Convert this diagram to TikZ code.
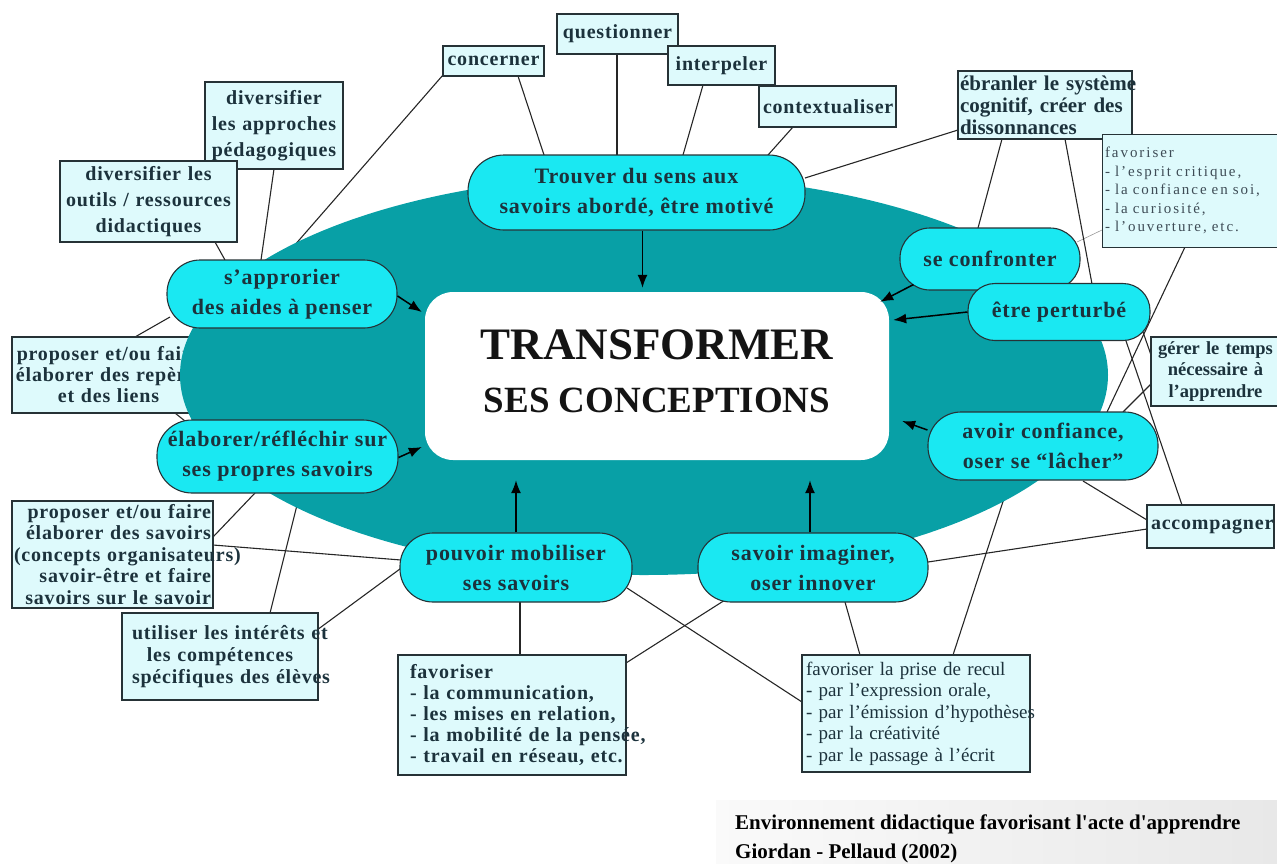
\documentclass[tikz,border=0pt]{standalone}
\usepackage{fontspec}
\setmainfont{Liberation Serif}
\newfontfamily\trackedserif[LetterSpace=4]{Liberation Serif}
\newfontfamily\looseserif[LetterSpace=13]{Liberation Serif}
\usetikzlibrary{arrows.meta,calc}

\definecolor{disccolor}{RGB}{8,160,166}
\definecolor{bubblefill}{RGB}{26,232,242}
\definecolor{notefill}{RGB}{222,250,252}
\definecolor{inkdark}{RGB}{28,50,60}
\definecolor{inksoft}{RGB}{62,76,86}
\definecolor{rim}{RGB}{38,50,54}

\pgfdeclarelayer{links}
\pgfdeclarelayer{under}
\pgfdeclarelayer{disc}
\pgfsetlayers{links,under,disc,main}

\newcommand\oneline[1]{\mbox{#1}}

\tikzset{
  bubble/.style={draw=rim, line width=1.1pt, fill=bubblefill, rounded corners=30pt,
    align=center, text=inkdark, inner sep=0pt,
    font=\trackedserif\bfseries\fontsize{22}{30}\selectfont},
  notebox/.style={draw=rim, line width=1.3pt, fill=notefill, text=inkdark,
    inner xsep=4pt, inner ysep=0pt, align=center,
    font=\trackedserif\bfseries\fontsize{20}{21.5}\selectfont},
  link/.style={draw=black!85, line width=1.1pt},
  feed/.style={draw=black, line width=1.5pt, -{Latex[length=13pt,width=10pt]}},
}

\begin{document}
\begin{tikzpicture}[x=1pt,y=-1pt]
\useasboundingbox (0,0) rectangle (1277,863);
\clip (0,0) rectangle (1277,863);

% caption band
\shade[left color=black!2, right color=black!9] (716,800) rectangle (1277,863);

% teal disc behind the bubbles
\begin{pgfonlayer}{disc}
  \fill[disccolor] (644,375) ellipse [x radius=464, y radius=200];
\end{pgfonlayer}

% central statement
\node[fill=white, rounded corners=28pt, minimum width=464pt, minimum height=168pt, inner sep=0pt] (nCenter) at (657,376) {};
\node[font=\bfseries\fontsize{45}{50}\selectfont, text=black!92, inner sep=0pt] (tTitleA) at ([yshift=31pt]nCenter.center) {TRANSFORMER};
\node[font=\bfseries\fontsize{37}{42}\selectfont, text=black!92, inner sep=0pt] (tTitleB) at ([yshift=-24pt]nCenter.center) {SES CONCEPTIONS};

% bubbles
\node[bubble, minimum width=337pt, minimum height=75pt, rounded corners=36pt] (bTrouver) at (636.5,192.5) {Trouver du sens aux\\savoirs abordé, être motivé};
\node[bubble, minimum width=230pt, minimum height=68pt, rounded corners=33pt] (bAppro) at (282,294) {s’approrier\\des aides à penser};
\node[bubble, minimum width=241pt, minimum height=73pt, rounded corners=35pt] (bElab) at (277.5,456.5) {élaborer/réfléchir sur\\ses propres savoirs};
\node[bubble, minimum width=232pt, minimum height=69pt, rounded corners=33pt] (bMobil) at (516,567.5) {pouvoir mobiliser\\ses savoirs};
\node[bubble, minimum width=230pt, minimum height=69pt, rounded corners=33pt] (bImag) at (813,567.5) {savoir imaginer,\\oser innover};
\node[bubble, minimum width=230pt, minimum height=68pt, rounded corners=33pt] (bConf) at (1043,446) {avoir confiance,\\oser se “lâcher”};
\node[bubble, minimum width=180pt, minimum height=62pt, rounded corners=30pt] (bConfr) at (990,259) {se confronter};
\node[bubble, minimum width=182pt, minimum height=57pt, rounded corners=27pt] (bPert) at (1059,312) {être perturbé};

% note boxes
\node[notebox, text width=130pt, minimum height=87pt, font=\trackedserif\bfseries\fontsize{20}{26}\selectfont] (xPedago) at (274,125.5)
  {\oneline{diversifier}\\\oneline{les approches}\\\oneline{pédagogiques}};
\node[notebox, text width=169pt, minimum height=81pt, font=\trackedserif\bfseries\fontsize{20}{26}\selectfont] (xDidact) at (148.5,201.5)
  {\oneline{diversifier les}\\\oneline{outils / ressources}\\\oneline{didactiques}};
\node[notebox, text width=93pt, minimum height=30pt] (xConcern) at (493.5,61) {\oneline{concerner}};
\node[notebox, text width=113pt, minimum height=40pt] (xQuest) at (617.5,34) {\oneline{questionner}};
\node[notebox, text width=99pt, minimum height=39pt] (xInterp) at (721.5,65.5) {\oneline{interpeler}};
\node[notebox, text width=129pt, minimum height=41pt] (xContext) at (827.5,106.5) {\oneline{contextualiser}};
\node[notebox, text width=170pt, inner xsep=2pt, minimum height=68pt, align=left, font=\bfseries\fontsize{21}{22}\selectfont] (xEbran) at (1045,105)
  {\oneline{ébranler le système}\\\oneline{cognitif, créer des}\\\oneline{dissonnances}};
\node[notebox, text width=182pt, inner xsep=3pt, minimum height=113pt, align=left, line width=1pt, text=inksoft, font=\looseserif\fontsize{15}{18.5}\selectfont] (xFavR) at (1196,190.5)
  {\oneline{favoriser}\\\oneline{- l’esprit critique,}\\\oneline{- la confiance en soi,}\\\oneline{- la curiosité,}\\\oneline{- l’ouverture, etc.}};
\node[notebox, text width=119pt, inner xsep=5pt, minimum height=69pt, font=\bfseries\fontsize{18.5}{21.5}\selectfont] (xGerer) at (1215.5,371.5)
  {\oneline{gérer le temps}\\\oneline{nécessaire à}\\\oneline{l’apprendre}};
\node[notebox, text width=119pt, minimum height=43pt] (xAccomp) at (1210.5,526.5) {\oneline{accompagner}};
\node[notebox, text width=220pt, minimum height=117pt, align=left, font=\fontsize{19}{21.5}\selectfont] (xRecul) at (916,713.5)
  {\oneline{favoriser la prise de recul}\\\oneline{- par l’expression orale,}\\\oneline{- par l’émission d’hypothèses}\\\oneline{- par la créativité}\\\oneline{- par le passage à l’écrit}};
\node[notebox, text width=204pt, inner xsep=12pt, minimum height=120pt, align=left, font=\trackedserif\bfseries\fontsize{20}{21}\selectfont] (xFavB) at (512,715)
  {\oneline{favoriser}\\\oneline{- la communication,}\\\oneline{- les mises en relation,}\\\oneline{- la mobilité de la pensée,}\\\oneline{- travail en réseau, etc.}};
\node[notebox, text width=176pt, inner xsep=10pt, minimum height=87pt, font=\trackedserif\bfseries\fontsize{20}{21.7}\selectfont] (xUtil) at (220,656.5)
  {\oneline{utiliser les intérêts et}\\\oneline{les compétences}\\\oneline{spécifiques des élèves}};
\node[notebox, text width=197pt, inner xsep=2pt, minimum height=107pt, align=right] (xSavoirs) at (112.5,554.5)
  {\oneline{proposer et/ou faire}\\\oneline{élaborer des savoirs}\\\oneline{(concepts organisateurs)}\\\oneline{savoir-être et faire}\\\oneline{savoirs sur le savoir}};
\begin{pgfonlayer}{under}
  \node[notebox, text width=185pt, minimum height=76pt, font=\trackedserif\bfseries\fontsize{20}{21}\selectfont] (xReperes) at (108.5,375)
    {\oneline{proposer et/ou faire}\\\oneline{élaborer des repères}\\\oneline{et des liens}};
\end{pgfonlayer}

% caption
\node[anchor=base west, inner sep=0pt, font=\bfseries\fontsize{21}{24}\selectfont] (capA) at (735,829) {Environnement didactique favorisant l\textquotesingle acte d\textquotesingle apprendre};
\node[anchor=base west, inner sep=0pt, font=\bfseries\fontsize{21}{24}\selectfont] (capB) at (735,858) {Giordan - Pellaud (2002)};

% plain connectors, kept under the disc and the shapes
\begin{pgfonlayer}{links}
  \draw[link] ($(xConcern.center)+(24.5,15)$) -- ($(bTrouver.center)+(-92.5,-37.5)$);
  \draw[link] ($(xQuest.center)+(-0.5,20)$) -- ($(bTrouver.center)+(-19.5,-37.5)$);
  \draw[link] ($(xInterp.center)+(-18.5,19.5)$) -- ($(bTrouver.center)+(46.5,-37.5)$);
  \draw[link] ($(xContext.center)+(-34.5,20.5)$) -- ($(bTrouver.center)+(131.5,-37.5)$);
  \draw[link] ($(bTrouver.center)+(168.5,-14.5)$) -- ($(xEbran.center)+(-87,25)$);
  \draw[link] ($(xConcern.center)+(-50.5,14)$) -- ($(bAppro.center)+(-2,-32)$);
  \draw[link] ($(xPedago.center)+(0,43.5)$) -- ($(bAppro.center)+(-21,-34)$);
  \draw[link] ($(xDidact.center)+(66.5,40.5)$) -- ($(bAppro.center)+(-57,-34)$);
  \draw[link] ($(bAppro.center)+(-112,23)$) -- ($(xReperes.center)+(26.5,-38)$);
  \draw[link] ($(xReperes.center)+(66.5,38)$) -- ($(bElab.center)+(-92.5,-35.5)$);
  \draw[link] ($(bElab.center)+(-22.5,36.5)$) -- ($(xSavoirs.center)+(100.5,-17.5)$);
  \draw[link] ($(xSavoirs.center)+(100.5,-9.5)$) -- ($(bMobil.center)+(-115,-7.5)$);
  \draw[link] ($(xUtil.center)+(97,-26.5)$) -- ($(bMobil.center)+(-112,-1.5)$);
  \draw[link] ($(xUtil.center)+(50,-43.5)$) -- ($(bElab.center)+(22.5,36.5)$);
  \draw[link] ($(bMobil.center)+(4,34.5)$) -- ($(xFavB.center)+(8,-60)$);
  \draw[link] ($(bImag.center)+(-88,32.5)$) -- ($(xFavB.center)+(114,-52)$);
  \draw[link] ($(bMobil.center)+(111,20.5)$) -- ($(xRecul.center)+(-114,-11.5)$);
  \draw[link] ($(bImag.center)+(32,34.5)$) -- ($(xRecul.center)+(-56,-58.5)$);
  \draw[link] ($(xRecul.center)+(37,-58.5)$) -- ($(bConf.center)+(-33,34)$);
  \draw[link] ($(bImag.center)+(115,-5.5)$) -- ($(xAccomp.center)+(-63.5,2.5)$);
  \draw[link] ($(bConf.center)+(40,35)$) -- ($(xAccomp.center)+(-63.5,-6.5)$);
  \draw[link] ($(bPert.center)+(66,26)$) -- ($(xAccomp.center)+(-28.5,-21.5)$);
  \draw[link] ($(bPert.center)+(84,20)$) -- ($(xGerer.center)+(-64.5,-16.5)$);
  \draw[link] ($(xGerer.center)+(-63.5,11.5)$) -- ($(bConf.center)+(80,-34)$);
  \draw[link] ($(xFavR.center)+(-11,56.5)$) -- ($(bConf.center)+(64,-34)$);
  \draw[link, draw=black!40, line width=0.6pt] ($(xFavR.center)+(-94,39.5)$) -- ($(bConfr.center)+(87,-17)$);
  \draw[link] ($(xEbran.center)+(-43,34)$) -- ($(bConfr.center)+(-12,-31)$);
  \draw[link] ($(xEbran.center)+(20,34)$) -- ($(bPert.center)+(33,-28)$);
\end{pgfonlayer}

% arrows feeding the central statement
\draw[feed] ([xshift=6pt]bTrouver.south) -- ([xshift=6pt,yshift=4pt]bTrouver.south |- nCenter.north);
\draw[feed] ([yshift=-2pt]bAppro.east) -- ([xshift=-3pt,yshift=64pt]nCenter.west);
\draw[feed] ([yshift=-1pt]bElab.east) -- ([xshift=-3pt,yshift=-71pt]nCenter.west);
\draw[feed] (bMobil.north) -- ([yshift=-20pt]bMobil.north |- nCenter.south);
\draw[feed] ([xshift=-3pt]bImag.north) -- ([xshift=-3pt,yshift=-20pt]bImag.north |- nCenter.south);
\draw[feed] ([yshift=16pt]bConf.west) -- ([xshift=13pt,yshift=-45pt]nCenter.east);
\draw[feed] (bPert.west) -- ([xshift=4pt,yshift=56pt]nCenter.east);
\draw[feed] ([xshift=14pt,yshift=6pt]bConfr.south west) -- ([xshift=-9pt,yshift=-10pt]nCenter.north east);
\end{tikzpicture}
\end{document}
